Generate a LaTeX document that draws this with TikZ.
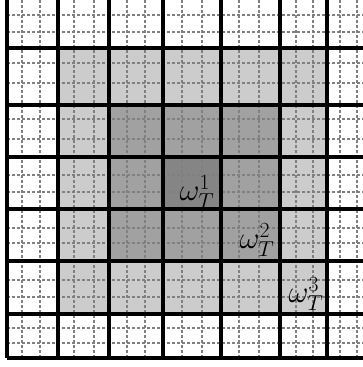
\RequirePackage{fix-cm}
\documentclass[tikz,border=0pt]{standalone}
\usepackage{amsmath,amssymb}
\tikzset{
  fine/.style={draw=black!50, line width=1.5bp, dash pattern=on 3bp off 2bp},
  coarse/.style={draw=black, line width=3.2bp},
  lbl/.style={inner sep=0pt, font=\fontsize{31}{37}\selectfont}
}
\begin{document}
\begin{tikzpicture}[x=1bp, y=-1bp]
			\useasboundingbox (0,0) rectangle (363,367);
			\clip (0,0) rectangle (363,367);
			% Nested patches
			\fill[black!20] (58,48) rectangle (327,314);
			\fill[black!37] (109,105) rectangle (280,261);
			\fill[black!48] (163,157) rectangle (221,209);
			% Fine mesh (dashed)
			\foreach \x in {22,40,74,94,127,145,182,202,239,259,296,313,340,357}
				\draw[fine] (\x,0) -- (\x,358);
			\foreach \y in {15,32,63,83,119,139,175,192,228,243,280,297,328,343}
				\draw[fine] (7,\y) -- (363,\y);
			% Coarse mesh
			\foreach \x in {7,58,109,163,221,280,327}
				\draw[coarse] (\x,0) -- (\x,358);
			\foreach \y in {48,105,157,209,261,314,358}
				\draw[coarse] (7,\y) -- (363,\y);
			% Labels
			\node[lbl] (w1) at (197,192) {$\omega_T^1$};
			\node[lbl] (w2) at (257,240) {$\omega_T^2$};
			\node[lbl] (w3) at (306,294) {$\omega_T^3$};
		\end{tikzpicture}
\end{document}
